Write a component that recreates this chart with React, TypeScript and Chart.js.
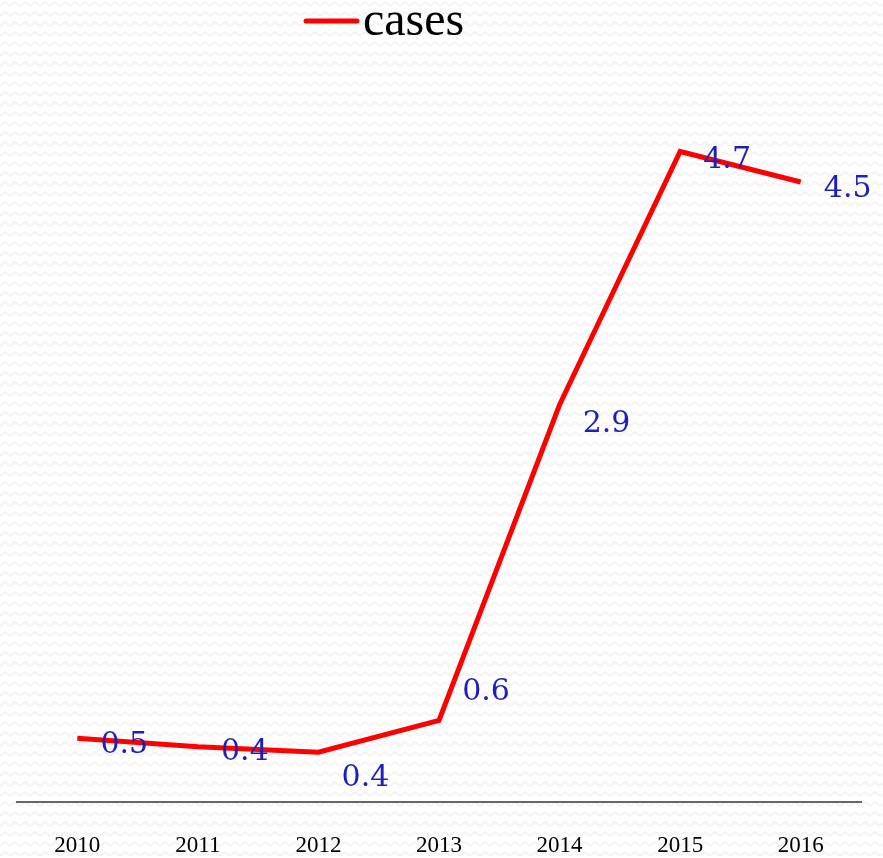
import React, { useEffect, useRef } from "react";
import { Chart, registerables } from "chart.js";

Chart.register(...registerables);

const years = ["2010", "2011", "2012", "2013", "2014", "2015", "2016"];
const cases = [0.46, 0.4, 0.36, 0.59, 2.87, 4.7, 4.48];
const seriesName = "cases";

// label placement (style, not data)
const LABEL_DX = 47;
const LABEL_DY = [7, 6, 26, -28, 19, 9, 7];

const bgPlugin = {
  id: "bgPattern",
  beforeDraw(chart: any) {
    const { ctx, width, height } = chart;
    const tile = document.createElement("canvas");
    tile.width = 10;
    tile.height = 10;
    const t = tile.getContext("2d")!;
    t.fillStyle = "#ffffff";
    t.fillRect(0, 0, 10, 10);
    t.strokeStyle = "#f3f3f3";
    t.lineWidth = 2;
    t.beginPath();
    t.moveTo(0, 6);
    t.lineTo(5, 2);
    t.lineTo(10, 6);
    t.stroke();
    const pat = ctx.createPattern(tile, "repeat");
    ctx.save();
    ctx.fillStyle = pat;
    ctx.fillRect(0, 0, width, height);
    ctx.restore();
  },
};

const labelPlugin = {
  id: "valueLabels",
  afterDatasetsDraw(chart: any) {
    const { ctx } = chart;
    const meta = chart.getDatasetMeta(0);
    ctx.save();
    ctx.font = "30px 'DejaVu Serif'";
    ctx.fillStyle = "#1e1ebc";
    ctx.textAlign = "center";
    ctx.textBaseline = "middle";
    meta.data.forEach((pt: any, i: number) => {
      const v = chart.data.datasets[0].data[i] as number;
      ctx.fillText(v.toFixed(1), pt.x + LABEL_DX, pt.y + LABEL_DY[i]);
    });
    ctx.restore();
  },
};

const legendPlugin = {
  id: "customLegend",
  afterDraw(chart: any) {
    const { ctx } = chart;
    ctx.save();
    ctx.strokeStyle = "#ff0000";
    ctx.lineWidth = 5;
    ctx.lineCap = "round";
    ctx.beginPath();
    ctx.moveTo(306, 21);
    ctx.lineTo(357, 21);
    ctx.stroke();
    ctx.fillStyle = "#000000";
    ctx.font = "48px 'Liberation Serif'";
    ctx.textAlign = "left";
    ctx.textBaseline = "alphabetic";
    ctx.fillText(seriesName, 363, 35);
    ctx.restore();
  },
};

export default function App() {
  const ref = useRef<HTMLCanvasElement>(null);
  useEffect(() => {
    if (!ref.current) return;
    const chart = new Chart(ref.current, {
      type: "line",
      data: {
        labels: years,
        datasets: [
          {
            label: seriesName,
            data: cases,
            borderColor: "#ff0000",
            backgroundColor: "#ff0000",
            borderWidth: 5,
            pointRadius: 0,
            tension: 0,
            borderJoinStyle: "miter",
          },
        ],
      },
      options: {
        animation: false,
        responsive: false,
        devicePixelRatio: 1,
        layout: { padding: { top: 110, left: 17, right: 22, bottom: 0 } },
        plugins: {
          legend: { display: false },
          tooltip: { enabled: false },
        },
        scales: {
          x: {
            type: "category",
            offset: true,
            grid: { display: false, drawTicks: false },
            border: { display: true, color: "#666666", width: 2 },
            ticks: {
              color: "#000000",
              font: { family: "'Liberation Serif'", size: 23 },
              padding: 30,
              maxRotation: 0,
            },
            afterFit: (s: any) => {
              s.height = 56;
            },
          },
          y: {
            display: false,
            min: 0,
            max: 5,
          },
        },
      },
      plugins: [bgPlugin, labelPlugin, legendPlugin],
    });
    return () => chart.destroy();
  }, []);
  return (
    <div style={{ position: "fixed", left: 0, top: 0, width: 883, height: 858 }}>
      <canvas ref={ref} width={883} height={858} style={{ display: "block" }} />
    </div>
  );
}
